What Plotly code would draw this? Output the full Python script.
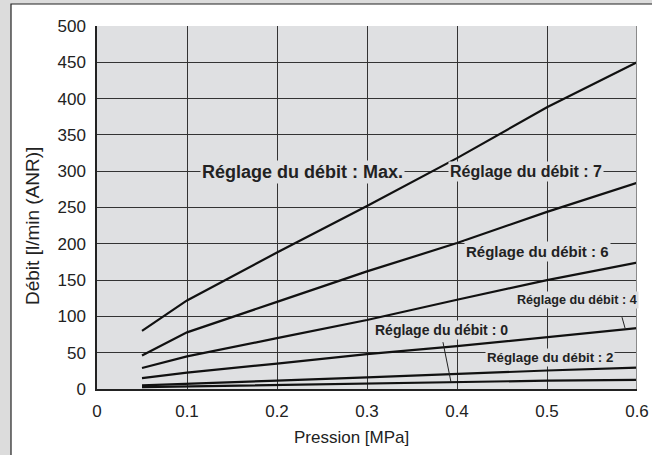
import plotly.graph_objects as go

pression = [0.05, 0.1, 0.2, 0.3, 0.4, 0.5, 0.6]
debit_max = [80, 122, 188, 252, 318, 388, 450]
debit_7 = [46, 78, 120, 162, 201, 244, 284]
debit_6 = [29, 45, 70, 95, 123, 150, 174]
debit_4 = [15, 22.5, 35, 48, 59, 72, 84]
debit_2 = [5, 7.5, 11.5, 16, 21, 25.5, 29.5]
debit_0 = [2.5, 3.5, 5.5, 7.8, 10, 11.5, 12.5]

series = [("Max.", debit_max), ("7", debit_7), ("6", debit_6),
          ("4", debit_4), ("2", debit_2), ("0", debit_0)]

x_ticks = [0, 0.1, 0.2, 0.3, 0.4, 0.5, 0.6]
x_tick_labels = ["0", "0.1", "0.2", "0.3", "0.4", "0.5", "0.6"]
y_ticks = [0, 50, 100, 150, 200, 250, 300, 350, 400, 450, 500]

PLOT_BG = "#dfe0e2"
FONT = "Liberation Sans, Arial, sans-serif"

fig = go.Figure()
for name, vals in series:
    fig.add_trace(go.Scatter(x=pression, y=vals, mode="lines", name=name,
                             line=dict(color="#111111", width=2.2),
                             showlegend=False, hoverinfo="skip"))

W, H = 652, 455
L, R, T, B = 97, 15, 26, 66
pw, ph = W - L - R, H - T - B

def px(xp):
    return (xp - L) / pw

def py(yp):
    return (H - B - yp) / ph

shapes = [
    # outer white card with border
    dict(type="rect", xref="paper", yref="paper", x0=px(11), x1=px(700),
         y0=py(500), y1=py(4), fillcolor="white",
         line=dict(color="#222222", width=1.2), layer="below"),
    # plot background
    dict(type="rect", xref="x", yref="y", x0=0, x1=0.6, y0=0, y1=500,
         fillcolor=PLOT_BG, line=dict(width=0), layer="below"),
    # leader lines
    dict(type="line", xref="x", yref="y", x0=0.5833, y0=99, x1=0.5867, y1=84,
         line=dict(color="#222222", width=1)),
    dict(type="line", xref="x", yref="y", x0=0.3844, y0=64.5, x1=0.3933, y1=9.6,
         line=dict(color="#222222", width=1)),
    # right border of plot area
    dict(type="line", xref="x", yref="paper", x0=0.6, x1=0.6, y0=0, y1=1,
         line=dict(color="#8a8a8a", width=2)),
]

def lab(text, x, y, size, xanchor="center"):
    return dict(text="<b>%s</b>" % text, x=x, y=y, xref="x", yref="y",
                showarrow=False, xanchor=xanchor, yanchor="middle",
                font=dict(family=FONT, size=size, color="#222222"),
                bgcolor=PLOT_BG, borderpad=1)

annotations = [
    lab("Réglage du débit : Max.", (302 - L) / 900, 299, 18),
    lab("Réglage du débit : 7", (526 - L) / 900, 299, 16),
    lab("Réglage du débit : 6", (537 - L) / 900, 189, 15),
    lab("Réglage du débit : 4", (577 - L) / 900, 122, 12.6),
    lab("Réglage du débit : 0", (441 - L) / 900, 81, 14),
    lab("Réglage du débit : 2", (550 - L) / 900, 44, 13.3),
    dict(text="Débit [l/min (ANR)]", x=px(32), y=py(226), xref="paper", yref="paper",
         showarrow=False, textangle=-90, xanchor="center", yanchor="middle",
         font=dict(family=FONT, size=19, color="#222222")),
    dict(text="Pression [MPa]", x=px(351), y=py(438), xref="paper", yref="paper",
         showarrow=False, xanchor="center", yanchor="middle",
         font=dict(family=FONT, size=17, color="#222222")),
]

fig.update_layout(
    width=W, height=H,
    margin=dict(l=L, r=R, t=T, b=B, autoexpand=False),
    paper_bgcolor="#dcdcdc",
    plot_bgcolor="rgba(0,0,0,0)",
    font=dict(family=FONT, size=17, color="#222222"),
    shapes=shapes,
    annotations=annotations,
    xaxis=dict(range=[0, 0.6], tickvals=x_ticks, ticktext=x_tick_labels,
               showgrid=True, gridcolor="#333333", gridwidth=1,
               zeroline=False, showline=True, linecolor="#222222", linewidth=1.5,
               ticks="", ticklabelstandoff=6, fixedrange=True, automargin=False),
    yaxis=dict(range=[0, 500], tickvals=y_ticks,
               showgrid=True, gridcolor="#333333", gridwidth=1,
               zeroline=False, showline=True, linecolor="#222222", linewidth=1.5,
               mirror=False, ticks="", ticklabelstandoff=6, fixedrange=True,
               automargin=False),
)

fig.write_html("out.html", config={"displayModeBar": False},
               post_script="document.body.style.margin='0';"
                           "document.body.style.overflow='hidden';")
